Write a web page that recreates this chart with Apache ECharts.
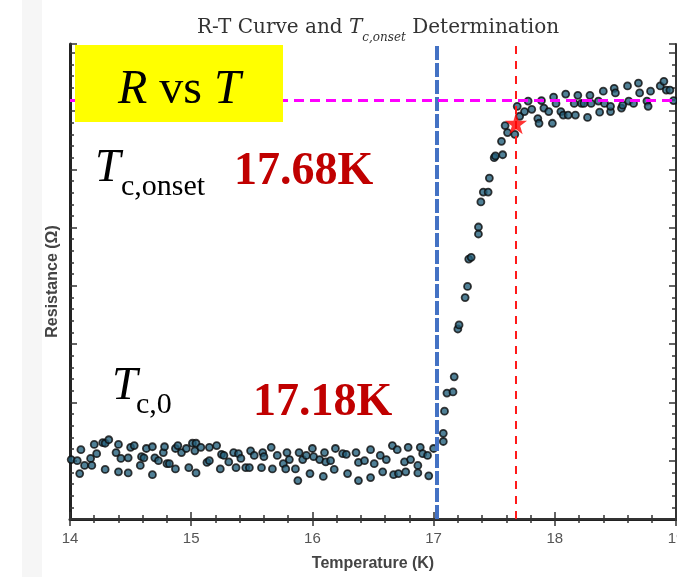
<!DOCTYPE html>
<html>
<head>
<meta charset="utf-8">
<script src="https://cdn.jsdelivr.net/npm/echarts@6/dist/echarts.min.js"></script>
<style>
  html, body { margin: 0; padding: 0; background: #fff; }
  #chart { width: 677px; height: 577px; }
</style>
</head>
<body>
<div id="chart"></div>
<script>
// measured points (temperature K, resistance arb. units)
const plateauLow = [[14.01,1.02],[14.06,1.00],[14.08,0.78],[14.09,1.19],[14.12,0.92],[14.17,1.04],[14.18,0.92],[14.20,1.28],[14.22,1.12],[14.27,1.31],[14.29,1.30],[14.32,1.36],[14.29,0.85],[14.38,1.14],[14.40,1.28],[14.40,0.81],[14.42,1.04],[14.48,1.05],[14.48,0.79],[14.50,1.23],[14.53,1.26],[14.58,0.92],[14.59,1.07],[14.61,1.05],[14.63,1.21],[14.68,0.76],[14.68,1.24],[14.70,1.05],[14.73,1.00],[14.77,1.14],[14.78,1.24],[14.80,0.95],[14.82,0.95],[14.87,1.21],[14.87,0.86],[14.89,1.26],[14.92,1.14],[14.96,1.21],[14.98,0.88],[15.01,1.30],[15.04,1.30],[15.03,1.17],[15.04,0.79],[15.08,1.23],[15.13,0.97],[15.15,1.23],[15.15,1.00],[15.21,1.26],[15.24,0.86],[15.25,1.11],[15.27,1.09],[15.31,0.98],[15.35,1.14],[15.37,0.88],[15.39,1.12],[15.41,1.04],[15.45,0.88],[15.48,0.88],[15.49,1.17],[15.52,1.09],[15.58,0.88],[15.59,1.14],[15.60,1.07],[15.66,1.23],[15.67,0.86],[15.71,1.09],[15.76,0.95],[15.78,0.86],[15.79,1.14],[15.81,1.02],[15.86,0.86],[15.88,0.66],[15.89,1.14],[15.92,1.02],[15.95,1.09],[15.98,0.78],[16.00,1.21],[16.01,1.07],[16.06,1.02],[16.09,0.73],[16.10,1.14],[16.11,0.98],[16.15,1.00],[16.18,0.85],[16.19,1.21],[16.25,1.12],[16.28,1.11],[16.29,0.78],[16.36,1.14],[16.38,0.66],[16.38,0.97],[16.43,1.00],[16.48,1.19],[16.48,0.71],[16.51,0.95],[16.56,1.09],[16.58,0.81],[16.61,1.02],[16.66,1.26],[16.67,0.76],[16.70,1.19],[16.71,0.78],[16.76,0.98],[16.77,0.81],[16.79,1.23],[16.81,1.02],[16.87,0.92],[16.87,0.79],[16.89,1.23],[16.91,1.12],[16.96,0.74],[16.95,1.09],[17.00,1.21]]
const transition = [[17.08,1.33],[17.08,1.47],[17.09,1.85],[17.11,2.16],[17.16,2.18],[17.17,2.44],[17.20,3.26],[17.21,3.33],[17.26,3.80],[17.28,3.99],[17.29,4.46],[17.31,4.49],[17.37,4.89],[17.37,5.01],[17.39,5.44],[17.41,5.61],[17.45,5.61],[17.46,5.85],[17.50,6.20],[17.51,6.23],[17.57,6.25],[17.56,6.48],[17.59,6.75],[17.61,6.63],[17.67,6.60]]
const plateauHigh = [[17.69,7.08],[17.71,6.91],[17.75,6.99],[17.81,7.03],[17.78,7.17],[17.86,6.87],[17.87,6.79],[17.89,7.18],[17.91,7.05],[17.95,6.99],[17.98,6.79],[17.99,7.24],[18.01,7.13],[18.05,6.99],[18.07,6.93],[18.09,7.29],[18.11,6.93],[18.16,7.13],[18.17,6.93],[18.19,7.27],[18.22,7.13],[18.24,7.13],[18.27,6.89],[18.29,7.27],[18.30,7.13],[18.36,7.17],[18.37,6.98],[18.40,7.34],[18.41,7.13],[18.46,6.99],[18.46,7.08],[18.49,7.39],[18.50,7.31],[18.55,7.05],[18.56,7.10],[18.60,7.43],[18.61,7.17],[18.65,7.13],[18.69,7.48],[18.70,7.31],[18.76,7.17],[18.77,7.08],[18.79,7.34],[18.87,7.43],[18.90,7.51],[18.92,7.36],[18.95,7.36],[18.98,7.18]]

const onsetPoint = [17.68, 6.79]
const tcZeroLine = 17.03
const tcOnsetLine = 17.68
const normalLevel = 7.18
const xTicks = [14, 15, 16, 17, 18, 19]

const chart = echarts.init(document.getElementById('chart'))
const serif = '"Liberation Serif", "Times New Roman", serif'
const starPath = 'path://M50,0 L61,35 L98,35 L68,57 L79,91 L50,70 L21,91 L32,57 L2,35 L39,35 Z'

const boxAxis = {
  min: 0, max: 8.15, interval: 1,
  axisLine: { lineStyle: { color: '#333', width: 2 } },
  axisTick: { inside: true, length: 7, lineStyle: { color: '#333', width: 1.5 } },
  minorTick: { show: true, splitNumber: 5, length: 4, lineStyle: { color: '#333', width: 1.5 } },
  axisLabel: { show: false },
  splitLine: { show: false }
}
const tempAxis = {
  min: xTicks[0], max: xTicks[xTicks.length - 1], interval: 1,
  axisLine: { lineStyle: { color: '#333', width: 2 } },
  axisTick: { inside: true, length: 7, lineStyle: { color: '#333', width: 1.5 } },
  minorTick: { show: true, splitNumber: 5, length: 4, lineStyle: { color: '#333', width: 1.5 } },
  splitLine: { show: false }
}

const pointStyle = { color: '#24607c', borderColor: '#0d0d0d', borderWidth: 1.8 }

chart.setOption({
  animation: false,
  title: {
    text: '{n|R-T Curve and }{i|T}{s|c,onset}{n| Determination}',
    left: 373, top: 7, textAlign: 'center',
    textStyle: {
      fontWeight: 'normal',
      rich: {
        n: { fontFamily: '"DejaVu Serif", serif', fontWeight: 'normal', fontSize: 20, color: '#333', lineHeight: 32 },
        i: { fontFamily: '"DejaVu Serif", serif', fontWeight: 'normal', fontStyle: 'italic', fontSize: 20, color: '#333', lineHeight: 32 },
        s: { fontFamily: '"DejaVu Serif", serif', fontWeight: 'normal', fontStyle: 'italic', fontSize: 12, color: '#333', lineHeight: 19, verticalAlign: 'bottom' }
      }
    }
  },
  grid: { left: 70, right: 1, top: 44, bottom: 58, outerBoundsMode: 'none', containLabel: false },
  xAxis: [
    Object.assign({}, tempAxis, {
      type: 'value', position: 'bottom',
      axisLine: { lineStyle: { color: '#222', width: 3 } },
      name: 'Temperature (K)', nameLocation: 'middle', nameGap: 37,
      nameTextStyle: { fontFamily: '"Liberation Sans", Arial, sans-serif', fontWeight: 'bold', fontSize: 16, color: '#444' },
      axisLabel: { fontFamily: '"Liberation Sans", Arial, sans-serif', fontSize: 15, color: '#555', margin: 12 }
    }),
    Object.assign({}, tempAxis, { type: 'value', position: 'top', axisLabel: { show: false } })
  ],
  yAxis: [
    Object.assign({}, boxAxis, {
      type: 'value', position: 'left',
      axisLine: { lineStyle: { color: '#222', width: 3 } },
      name: 'Resistance (Ω)', nameLocation: 'middle', nameGap: 9,
      nameTextStyle: { fontFamily: '"Liberation Sans", Arial, sans-serif', fontWeight: 'bold', fontSize: 16, color: '#444' }
    }),
    Object.assign({}, boxAxis, { type: 'value', position: 'right' })
  ],
  series: [
    {
      type: 'line', data: [], z: 1,
      markLine: {
        silent: true, symbol: 'none', label: { show: false },
        data: [
          { xAxis: tcZeroLine, lineStyle: { color: '#4472c4', width: 4, type: [14, 3] } },
          { xAxis: tcOnsetLine, lineStyle: { color: '#ff1a1a', width: 2, type: [8, 7] } },
          { yAxis: normalLevel, lineStyle: { color: '#ff00ff', width: 3, type: [10, 6] } }
        ]
      }
    },
    { type: 'scatter', data: plateauLow, symbolSize: 7, itemStyle: pointStyle, z: 2 },
    { type: 'scatter', data: transition, symbolSize: 7, itemStyle: pointStyle, z: 2 },
    { type: 'scatter', data: plateauHigh, symbolSize: 7, itemStyle: pointStyle, z: 2 },
    { type: 'scatter', data: [onsetPoint], symbol: starPath, symbolSize: 22, itemStyle: { color: '#ff0000' }, z: 5 }
  ],
  graphic: [
    { type: 'rect', z: 0, silent: true, shape: { x: 22, y: 0, width: 20, height: 577 }, style: { fill: '#f6f6f6' } },
    { type: 'rect', z: 100, shape: { x: 75, y: 45, width: 208, height: 77 }, style: { fill: '#ffff00' } },
    {
      type: 'text', z: 101, left: 118, top: 66,
      style: {
        text: '{i|R}{n| vs }{i|T}',
        rich: {
          i: { fontFamily: serif, fontStyle: 'italic', fontSize: 48, fill: '#000' },
          n: { fontFamily: serif, fontSize: 48, fill: '#000' }
        }
      }
    },
    { type: 'text', z: 101, x: 95, y: 169, style: { text: 'T', fontFamily: serif, fontStyle: 'italic', fontSize: 46, fill: '#000', verticalAlign: 'middle' } },
    { type: 'text', z: 101, x: 121, y: 187, style: { text: 'c,onset', fontFamily: serif, fontSize: 30, fill: '#000', verticalAlign: 'middle' } },
    { type: 'text', z: 101, x: 234, y: 172, style: { text: '17.68K', fontFamily: serif, fontWeight: 'bold', fontSize: 46, fill: '#c00000', verticalAlign: 'middle' } },
    { type: 'text', z: 101, x: 112, y: 387, style: { text: 'T', fontFamily: serif, fontStyle: 'italic', fontSize: 46, fill: '#000', verticalAlign: 'middle' } },
    { type: 'text', z: 101, x: 136, y: 405, style: { text: 'c,0', fontFamily: serif, fontSize: 30, fill: '#000', verticalAlign: 'middle' } },
    { type: 'text', z: 101, x: 253, y: 403, style: { text: '17.18K', fontFamily: serif, fontWeight: 'bold', fontSize: 46, fill: '#c00000', verticalAlign: 'middle' } }
  ]
})
</script>
</body>
</html>
